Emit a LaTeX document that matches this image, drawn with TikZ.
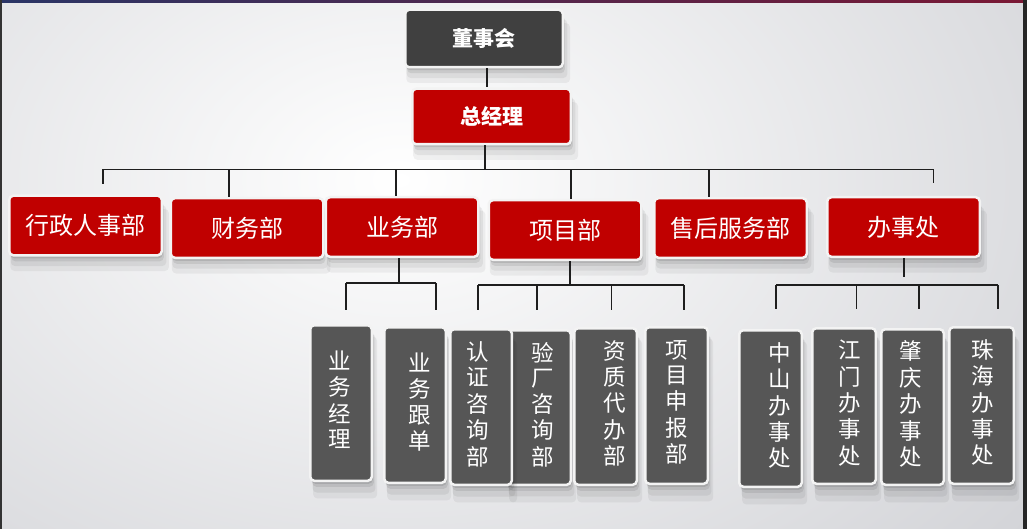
\documentclass[tikz,border=0pt]{standalone}
\usepackage{fontspec}
\newfontfamily\cjk{Noto Sans CJK SC}
\usetikzlibrary{shadows}
\definecolor{boxred}{HTML}{C00000}
\definecolor{boxdark}{HTML}{404040}
\definecolor{boxgray}{HTML}{565656}
\definecolor{bgc}{HTML}{D3D4D8}
\definecolor{edgec}{HTML}{F3F3F3}
\definecolor{linec}{HTML}{1E1E1E}
\definecolor{stripa}{HTML}{2A3566}
\definecolor{stripb}{HTML}{8A2E7A}
\definecolor{stripc}{HTML}{7A1834}
\newcommand\vtxt[3]{\begin{tabular}{@{\hspace{#1pt}}c@{\hspace{#2pt}}}#3\end{tabular}}
\tikzset{
  softshadow/.style={
    drop shadow={shadow xshift=1pt, shadow yshift=-3pt, opacity=.10, fill=black},
    drop shadow={shadow xshift=2pt, shadow yshift=-6pt, opacity=.08, fill=black},
    drop shadow={shadow xshift=3pt, shadow yshift=-10pt, shadow scale=1.02, opacity=.06, fill=black},
    drop shadow={shadow xshift=4pt, shadow yshift=-14pt, shadow scale=1.04, opacity=.05, fill=black}},
  box/.style={draw=edgec, line width=2.5pt, rounded corners=4pt, inner sep=0pt,
    text=white, softshadow},
  topbox/.style={box, font=\cjk\bfseries\fontsize{21}{24}\selectfont},
  redbox/.style={box, fill=boxred, minimum width=152.5pt, minimum height=59.5pt,
    font=\cjk\fontsize{24}{26}\selectfont},
  graybox/.style={box, fill=boxgray, font=\cjk\fontsize{22.5}{25}\selectfont},
  conn/.style={draw=linec, line width=1.1pt}
}
\begin{document}
\begin{tikzpicture}[x=1pt,y=-1pt]
\useasboundingbox (0,0) rectangle (1027,529);
% background
\fill[bgc] (0,0) rectangle (1027,529);
\begin{scope}
  \clip (0,0) rectangle (1027,529);
  \shade[inner color=white, outer color=bgc] (-400,-380) rectangle (1200,740);
\end{scope}
\shade[left color=stripa, middle color=stripb, right color=stripc] (0,0) rectangle (1027,3);
\fill[black!85] (1023,0) rectangle (1027,529);
\fill[black!80] (0,0) rectangle (2,529);

% top level
\node[topbox, fill=boxdark, minimum width=157.5pt, minimum height=57.5pt] (dsh) at (484,38.5) {董事会};
\node[topbox, fill=boxred, minimum width=158.5pt, minimum height=55.5pt] (zjl) at (491.5,116.5) {总经理};

% second level
\node[redbox] (xz)  at (85.5,225.5) {行政人事部};
\node[redbox] (cw)  at (247,228)    {财务部};
\node[redbox] (yw)  at (402,227)    {业务部};
\node[redbox] (xm)  at (565,230)    {项目部};
\node[redbox] (sh)  at (730.5,228)  {售后服务部};
\node[redbox] (bsc) at (903.5,227)  {办事处};

% third level
\node[graybox, minimum width=61.5pt, minimum height=155.5pt] (ywjl) at (341,403)   {\vtxt{0}{2}{业\\务\\经\\理}};
\node[graybox, minimum width=61.5pt, minimum height=155.5pt] (ywgd) at (415,405)   {\vtxt{10}{0}{业\\务\\跟\\单}};
\node[graybox, minimum width=64.5pt, minimum height=154.5pt] (yz)   at (538.5,407.5) {\vtxt{9}{0}{验\\厂\\咨\\询\\部}};
\node[graybox, minimum width=61.5pt, minimum height=155.5pt] (rz)   at (481,407)   {\vtxt{0}{6}{认\\证\\咨\\询\\部}};
\node[graybox, minimum width=62.5pt, minimum height=156.5pt] (zz)   at (605.5,406.5) {\vtxt{19}{0}{资\\质\\代\\办\\部}};
\node[graybox, minimum width=62.5pt, minimum height=156.5pt] (xmsb) at (676.5,405.5) {\vtxt{1}{0}{项\\目\\申\\报\\部}};
\node[graybox, minimum width=62.5pt, minimum height=156.5pt] (zs)   at (770.5,408.5) {\vtxt{19}{0}{中\\山\\办\\事\\处}};
\node[graybox, minimum width=63.5pt, minimum height=155.5pt] (jm)   at (844,406)   {\vtxt{12}{0}{江\\门\\办\\事\\处}};
\node[graybox, minimum width=62.5pt, minimum height=155.5pt] (zq)   at (912.5,407) {\vtxt{0}{3}{肇\\庆\\办\\事\\处}};
\node[graybox, minimum width=64.5pt, minimum height=156.5pt] (zh)   at (981.5,405.5) {\vtxt{3}{0}{珠\\海\\办\\事\\处}};

% connectors: top
\draw[conn] ([xshift=3pt]dsh.south) -- ([xshift=3pt]dsh.south |- zjl.north);
\coordinate (bus0) at (485,169.5);
\coordinate (busL) at (103,169.5);
\coordinate (busR) at (933.5,169.5);
\draw[conn] ([xshift=-6.5pt]zjl.south) -- (bus0);
\draw[conn] (busL) -- (busR);
\coordinate (j2) at (229,169.5);
\coordinate (j3) at (396,169.5);
\coordinate (j4) at (571,169.5);
\coordinate (j5) at (709,169.5);
\draw[conn] (busL) -- ([yshift=10pt]busL |- xz.north);
\draw[conn] (j2) -- (j2 |- cw.north);
\draw[conn] (j3) -- (j3 |- yw.north);
\draw[conn] (j4) -- (j4 |- xm.north);
\draw[conn] (j5) -- (j5 |- sh.north);
\draw[conn] (busR) -- ([yshift=13pt]busR |- bsc.north);

% connectors: 业务部
\coordinate (k0) at (399,283);
\coordinate (kL) at (346,283);
\coordinate (kR) at (436,283);
\draw[conn] ([xshift=-3pt]yw.south) -- (k0);
\draw[conn] (kL) -- (kR);
\draw[conn] (kL) -- ([yshift=14pt]kL |- ywjl.north);
\draw[conn] (kR) -- ([yshift=16pt]kR |- ywgd.north);

% connectors: 项目部
\coordinate (m0) at (570,285);
\coordinate (mL) at (478,285);
\coordinate (m2) at (537,285);
\coordinate (m3) at (611.5,285);
\coordinate (mR) at (684,285);
\draw[conn] ([xshift=5pt]xm.south) -- (m0);
\draw[conn] (mL) -- (mR);
\draw[conn] (mL) -- ([yshift=18pt]mL |- rz.north);
\draw[conn] (m2) -- ([yshift=19pt]m2 |- yz.north);
\draw[conn] (m3) -- ([yshift=17pt]m3 |- zz.north);
\draw[conn] (mR) -- ([yshift=16pt]mR |- xmsb.north);

% connectors: 办事处
\coordinate (n0) at (904,277);
\coordinate (nL) at (776,285);
\coordinate (n2) at (856.5,285);
\coordinate (n3) at (919,285);
\coordinate (nR) at (998,285);
\draw[conn] ([xshift=0.5pt]bsc.south) -- (n0);
\draw[conn] (nL) -- (nR);
\draw[conn] (nL) -- ([yshift=20pt]nL |- zs.north);
\draw[conn] (n2) -- ([yshift=18pt]n2 |- jm.north);
\draw[conn] (n3) -- ([yshift=19pt]n3 |- zq.north);
\draw[conn] (nR) -- ([yshift=17pt]nR |- zh.north);
\end{tikzpicture}
\end{document}
